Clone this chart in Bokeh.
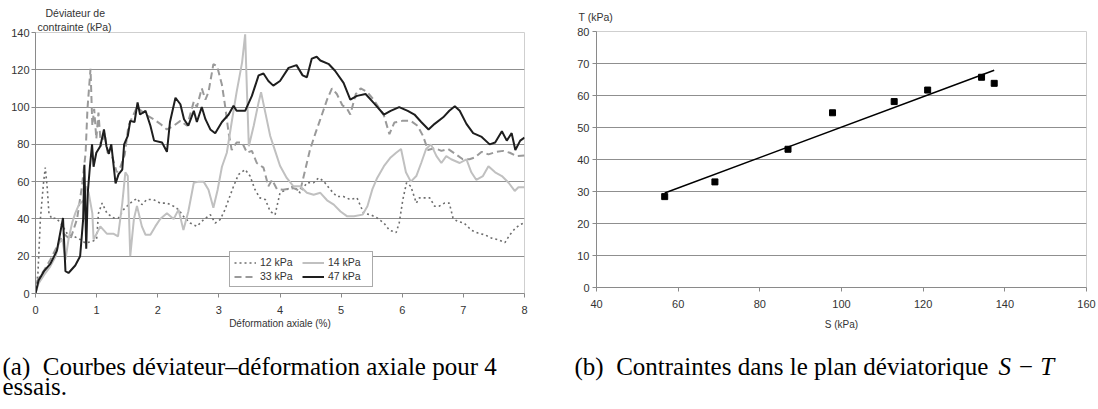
import numpy as np
from bokeh.plotting import figure
from bokeh.layouts import row, column
from bokeh.models import Legend, LegendItem, FixedTicker, Range1d, Title
from bokeh.core.properties import value
from bokeh.embed import file_html
from bokeh.resources import INLINE

# ---------------- data : left chart (deviator vs axial strain) ----------------
curve_12kPa = [(0, 0), (0.04, 11), (0.08, 40), (0.13, 59), (0.16, 67.5), (0.19, 57.5), (0.22, 43), (0.27, 40),
               (0.33, 40.5), (0.41, 38), (0.52, 32), (0.63, 30.6), (0.73, 29), (0.82, 27), (0.93, 28), (1.0, 29),
               (1.03, 43), (1.09, 48.5), (1.17, 43), (1.28, 40.5), (1.36, 40.5), (1.44, 45), (1.55, 48.5),
               (1.66, 51), (1.74, 47.7), (1.82, 50.4), (1.93, 50.4), (2.04, 48.5), (2.15, 48.5), (2.26, 46.8),
               (2.34, 45), (2.42, 41.4), (2.53, 37.8), (2.64, 36), (2.75, 39.6), (2.86, 42.3), (2.94, 37.8),
               (3.02, 39.6), (3.1, 45), (3.16, 50.4), (3.24, 57.5), (3.32, 63.8), (3.43, 66.5), (3.51, 63),
               (3.59, 55.8), (3.67, 51.3), (3.76, 50.4), (3.84, 44), (3.92, 42.3), (4.0, 54), (4.11, 55.8),
               (4.22, 57.5), (4.33, 54), (4.44, 59.4), (4.55, 59.4), (4.63, 62), (4.71, 60.4), (4.82, 55.8),
               (4.93, 52), (5.04, 52), (5.15, 50.4), (5.26, 51.3), (5.37, 43), (5.48, 42.3), (5.59, 40.5),
               (5.7, 37.8), (5.79, 34), (5.9, 32.7), (5.95, 37.8), (6.01, 50.4), (6.07, 59.4), (6.14, 57.5),
               (6.23, 48.5), (6.28, 51.3), (6.36, 51.3), (6.45, 51.3), (6.53, 46.8), (6.6, 46.8), (6.69, 48.5),
               (6.77, 48.5), (6.83, 40.5), (6.9, 38.7), (7.01, 37.8), (7.13, 34), (7.24, 32.4), (7.35, 31.5),
               (7.46, 29.7), (7.57, 28.8), (7.68, 27.3), (7.76, 31.5), (7.85, 35), (7.93, 37), (8.0, 37.8)]

curve_14kPa = [(0, 0), (0.05, 5.4), (0.14, 10), (0.24, 14.4), (0.33, 20), (0.38, 27), (0.44, 29), (0.49, 18),
               (0.54, 29), (0.6, 38), (0.65, 43), (0.71, 47.7), (0.79, 50), (0.83, 57.5), (0.87, 54), (0.93, 43),
               (0.95, 29), (1.0, 32), (1.06, 36), (1.17, 32), (1.28, 32), (1.35, 30.6), (1.42, 48.5), (1.47, 65),
               (1.51, 63), (1.55, 20), (1.61, 40), (1.66, 47), (1.74, 36), (1.8, 31.5), (1.88, 31.5), (1.96, 36),
               (2.04, 40), (2.15, 43), (2.26, 40), (2.34, 45), (2.42, 34), (2.5, 44), (2.59, 59.4), (2.67, 60),
               (2.75, 60), (2.83, 55.7), (2.91, 46), (2.98, 55.7), (3.05, 68), (3.13, 75.5), (3.21, 92),
               (3.29, 108), (3.38, 124), (3.43, 139), (3.46, 108), (3.49, 79), (3.57, 90), (3.65, 102.5),
               (3.69, 108), (3.76, 97), (3.84, 84.5), (3.92, 76.5), (4.0, 68.5), (4.11, 62), (4.22, 57.5),
               (4.33, 57.5), (4.44, 54), (4.55, 53), (4.66, 54), (4.77, 50), (4.88, 47.7), (4.99, 44), (5.1, 41.4),
               (5.21, 41.4), (5.35, 42.3), (5.43, 46.8), (5.51, 55.8), (5.59, 62), (5.7, 68.3), (5.81, 73),
               (5.9, 75.5), (5.98, 77.5), (6.06, 65), (6.14, 60), (6.23, 63), (6.31, 70), (6.39, 77.5), (6.47, 80),
               (6.56, 73.7), (6.64, 70), (6.72, 73.7), (6.8, 72), (6.94, 70), (7.05, 72), (7.13, 65), (7.21, 61),
               (7.32, 63), (7.41, 68.3), (7.52, 65), (7.63, 63), (7.74, 59.4), (7.84, 55), (7.9, 57), (8.0, 57)]

curve_33kPa = [(0, 0), (0.03, 7), (0.14, 12.5), (0.24, 18), (0.35, 25), (0.46, 32), (0.57, 29), (0.68, 40),
               (0.76, 57.5), (0.82, 75.5), (0.85, 99), (0.9, 120.5), (0.93, 90), (0.96, 99), (0.995, 83),
               (1.03, 97), (1.07, 79), (1.13, 86), (1.18, 75.5), (1.25, 74), (1.33, 65), (1.39, 68), (1.46, 74.5),
               (1.52, 90), (1.66, 100), (1.8, 96), (1.93, 93.5), (2.04, 91), (2.15, 88), (2.26, 90), (2.37, 92.6),
               (2.48, 90), (2.59, 103), (2.64, 100), (2.72, 110), (2.78, 104), (2.83, 108), (2.91, 123),
               (2.97, 122), (3.05, 112), (3.1, 101), (3.16, 86), (3.21, 77), (3.29, 81), (3.38, 81), (3.46, 75.5),
               (3.54, 76.5), (3.62, 70), (3.73, 67.5), (3.81, 57.5), (3.87, 61), (3.95, 56), (4.05, 55.6),
               (4.22, 56.5), (4.33, 55), (4.41, 66), (4.49, 77), (4.58, 86), (4.66, 93.5), (4.77, 104), (4.85, 110),
               (4.93, 107), (5.02, 101), (5.1, 99), (5.15, 96), (5.24, 107), (5.32, 110), (5.43, 108),
               (5.54, 103.6), (5.7, 95.5), (5.79, 85.5), (5.87, 91.7), (6.0, 92.6), (6.14, 92.6), (6.25, 90),
               (6.34, 84.5), (6.42, 77), (6.53, 78), (6.64, 76.5), (6.75, 77.5), (6.88, 74.6), (6.99, 72), (7.1, 72),
               (7.19, 73), (7.3, 76), (7.41, 74.6), (7.54, 76), (7.65, 76.5), (7.76, 75.5), (7.87, 73.7), (8.0, 74)]

curve_47kPa = [(0, 0), (0.05, 7), (0.14, 12), (0.245, 16), (0.35, 23), (0.45, 40.5), (0.49, 12), (0.54, 11),
               (0.65, 15), (0.73, 20), (0.78, 40), (0.8, 69), (0.83, 24), (0.855, 54), (0.89, 68), (0.925, 80),
               (0.95, 68), (0.995, 75.5), (1.06, 79), (1.12, 88), (1.16, 79), (1.2, 75), (1.24, 80), (1.31, 59),
               (1.36, 64), (1.42, 66.5), (1.45, 80), (1.51, 84.5), (1.55, 92.6), (1.62, 92), (1.67, 102.5),
               (1.71, 96), (1.8, 98), (1.88, 90), (1.94, 82), (2.07, 81), (2.15, 76), (2.2, 92), (2.29, 105),
               (2.37, 101.5), (2.43, 93.5), (2.5, 90), (2.59, 98), (2.64, 92), (2.72, 100), (2.78, 93.5), (2.86, 88),
               (2.94, 86), (3.05, 92), (3.16, 96), (3.24, 100.7), (3.29, 98), (3.43, 98), (3.54, 106), (3.65, 117),
               (3.73, 118), (3.81, 114), (3.89, 111.5), (4.0, 114), (4.14, 121), (4.27, 122.5), (4.37, 117),
               (4.44, 116), (4.52, 126), (4.6, 127), (4.66, 125), (4.8, 123), (4.9, 119.5), (5.04, 113), (5.15, 104),
               (5.26, 106), (5.4, 107), (5.54, 102), (5.7, 96), (5.81, 98), (5.95, 100), (6.09, 98), (6.2, 96),
               (6.31, 92), (6.43, 88), (6.53, 91), (6.67, 94.5), (6.77, 98), (6.86, 100.4), (6.94, 98), (7.05, 91),
               (7.16, 86), (7.3, 84), (7.43, 80), (7.52, 81), (7.63, 87), (7.71, 82), (7.79, 86), (7.85, 77),
               (7.93, 82), (8.0, 83.6)]

series_names = ["12 kPa", "14 kPa", "33 kPa", "47 kPa"]
strain_ticks = [0, 1, 2, 3, 4, 5, 6, 7, 8]
deviator_ticks = [0, 20, 40, 60, 80, 100, 120, 140]

# ---------------- data : right chart (S-T plane) ----------------
S_kPa = [56.7, 69.0, 86.9, 97.8, 112.9, 121.1, 134.3, 137.4]
T_kPa = [28.4, 33.0, 43.2, 54.6, 58.1, 61.7, 65.7, 63.8]
S_ticks = [40, 60, 80, 100, 120, 140, 160]
T_ticks = [0, 10, 20, 30, 40, 50, 60, 70, 80]

caption_a = ["(a)\u00a0 Courbes déviateur–déformation axiale pour 4", "essais."]
caption_b = "(b)\u00a0 Contraintes dans le plan déviatorique"
caption_b_math = "S − T"

# ---------------- styling helpers ----------------
SANS = "Liberation Sans"
SERIF = "Liberation Serif"
TXT = "#333333"
GRID = "#8f8f8f"
AX = "#8a8a8a"
CAP_SIZE = "25px"


def style_axes(p):
    for ax in (p.xaxis, p.yaxis):
        ax.axis_line_color = AX
        ax.major_tick_line_color = AX
        ax.major_tick_out = 4
        ax.major_tick_in = 0
        ax.minor_tick_line_color = None
        ax.major_label_text_font = SANS
        ax.major_label_text_font_size = "11px"
        ax.major_label_text_color = TXT
        ax.axis_label_text_font = SANS
        ax.axis_label_text_font_size = "10px"
        ax.axis_label_text_font_style = "normal"
        ax.axis_label_text_color = TXT
    p.xgrid.visible = False
    p.ygrid.grid_line_color = GRID
    p.outline_line_color = "#cfcfcf"
    p.background_fill_color = "white"
    p.border_fill_color = "white"


def style_title(t, offset, standoff):
    t.text_font = SANS
    t.text_font_size = "10.5px"
    t.text_font_style = "normal"
    t.text_color = TXT
    t.align = "left"
    t.offset = offset
    t.standoff = standoff


H_CHART = 338
H_CAP = 70

# ---------------- left figure ----------------
p1 = figure(width=545, height=H_CHART, x_range=Range1d(0, 8), y_range=Range1d(0, 140),
            output_backend="svg", toolbar_location=None, title="Déviateur de",
            min_border_left=35, min_border_right=21, min_border_top=32, min_border_bottom=45)
style_axes(p1)
style_title(p1.title, 10, 0)
t1b = Title(text="contrainte (kPa)")
style_title(t1b, 2, 0)
p1.add_layout(t1b, "above")

p1.xaxis.ticker = FixedTicker(ticks=strain_ticks)
p1.yaxis.ticker = FixedTicker(ticks=deviator_ticks)
p1.ygrid.ticker = FixedTicker(ticks=deviator_ticks[1:-1])
p1.xaxis.major_label_standoff = 8
p1.yaxis.major_label_standoff = 2
p1.xaxis.axis_label = "Déformation axiale (%)"
p1.xaxis.axis_label_standoff = 1


def xy(c):
    return [a for a, b in c], [b for a, b in c]


x12, y12 = xy(curve_12kPa)
x14, y14 = xy(curve_14kPa)
x33, y33 = xy(curve_33kPa)
x47, y47 = xy(curve_47kPa)

r12 = p1.line(x12, y12, line_color="#6e6e6e", line_width=1.6, line_dash="2 3")
r33 = p1.line(x33, y33, line_color="#9a9a9a", line_width=2, line_dash="7 4")
r14 = p1.line(x14, y14, line_color="#c0c0c0", line_width=2)
r47 = p1.line(x47, y47, line_color="#1e1e1e", line_width=2)

legend = Legend(items=[LegendItem(label=series_names[0], renderers=[r12]),
                       LegendItem(label=series_names[2], renderers=[r33]),
                       LegendItem(label=series_names[1], renderers=[r14]),
                       LegendItem(label=series_names[3], renderers=[r47])],
                location=(194, 6), ncols=2, orientation="vertical",
                border_line_color="#555555", border_line_width=1,
                background_fill_color="white", background_fill_alpha=1,
                label_text_font=SANS, label_text_font_size="10.5px", label_text_color=TXT,
                glyph_width=22, glyph_height=11, label_height=11, label_width=40,
                label_standoff=4, spacing=2, padding=4, margin=0)
p1.add_layout(legend)

# ---------------- right figure ----------------
p2 = figure(width=553, height=H_CHART, x_range=Range1d(40, 160), y_range=Range1d(0, 80),
            output_backend="svg", toolbar_location=None, title="T (kPa)",
            min_border_left=51, min_border_right=12, min_border_top=31, min_border_bottom=51)
style_axes(p2)
style_title(p2.title, -18, 17)
p2.xaxis.ticker = FixedTicker(ticks=S_ticks)
p2.yaxis.ticker = FixedTicker(ticks=T_ticks)
p2.ygrid.ticker = FixedTicker(ticks=T_ticks[1:-1])
p2.xaxis.major_label_standoff = 8
p2.yaxis.major_label_standoff = 3
p2.xaxis.axis_label = "S (kPa)"
p2.xaxis.axis_label_standoff = 8

coef = np.polyfit(S_kPa, T_kPa, 1)
s_fit = [min(S_kPa), max(S_kPa)]
t_fit = [coef[0] * s + coef[1] for s in s_fit]
p2.line(s_fit, t_fit, line_color="black", line_width=1.5)
p2.scatter(S_kPa, T_kPa, marker="square", size=6, fill_color="black", line_color="black")


# ---------------- caption strips ----------------
def caption_fig(w, h):
    c = figure(width=w, height=h, x_range=Range1d(0, w), y_range=Range1d(h, 0),
               x_axis_type=None, y_axis_type=None, output_backend="svg", toolbar_location=None,
               min_border=0)
    c.grid.visible = False
    c.outline_line_color = None
    c.background_fill_color = "white"
    c.border_fill_color = "white"
    return c


c1 = caption_fig(545, H_CAP)
c1.text(x=[2, 2], y=[28, 48], text=caption_a, text_font=value(SERIF), text_font_size=CAP_SIZE,
        text_color="black", text_align="left", text_baseline="alphabetic")

c2 = caption_fig(553, H_CAP)
c2.text(x=[29], y=[28], text=[caption_b], text_font=value(SERIF), text_font_size=CAP_SIZE,
        text_color="black", text_align="left", text_baseline="alphabetic")
c2.text(x=[453], y=[28], text=[caption_b_math], text_font=value(SERIF), text_font_size=CAP_SIZE,
        text_font_style="italic", text_color="black", text_align="left", text_baseline="alphabetic")

# nested single-child columns keep the two chart frames independent of each other
charts = row(column(p1, spacing=0), column(p2, spacing=0), spacing=0)
captions = row(c1, c2, spacing=0)
layout = column(charts, captions, spacing=0)
open("out.html", "w").write(file_html(layout, INLINE))
